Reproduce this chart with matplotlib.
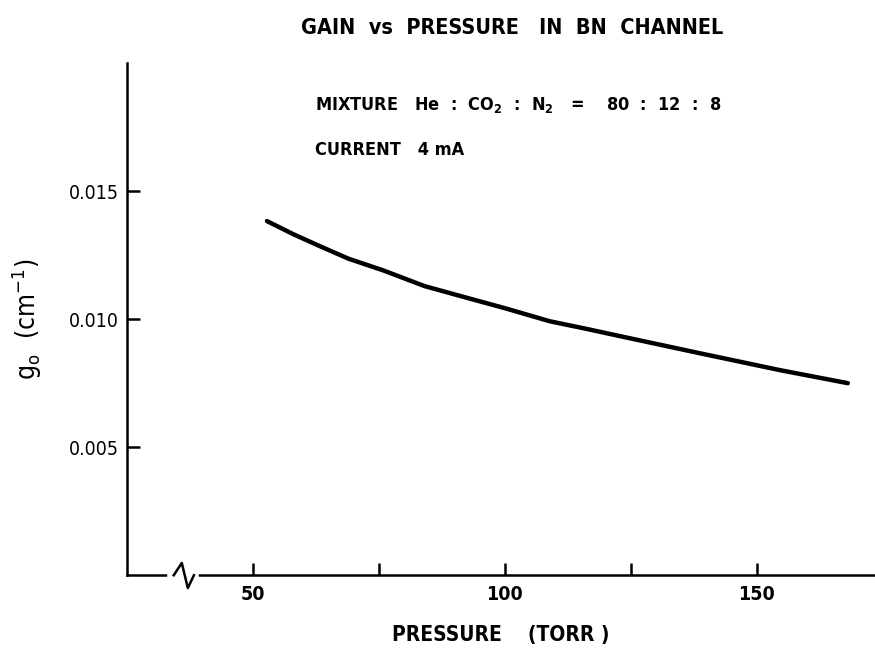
import matplotlib
matplotlib.use("Agg")
import matplotlib.pyplot as plt
from matplotlib.ticker import FixedLocator

plt.rcParams['font.family'] = ['DejaVu Sans']
plt.rcParams['font.stretch'] = 'condensed'

# values
pressure = [52.8, 58.0, 63.3, 69.0, 75.8, 84.1, 92.0, 100.0, 108.9, 116.0, 122.8,
            138.7, 154.6, 168.1]
gain = [0.01383, 0.01332, 0.01285, 0.01236, 0.01191, 0.01129, 0.01086, 0.01043,
        0.00992, 0.00963, 0.00934, 0.00867, 0.00801, 0.00750]

x_major = [50, 100, 150]
x_minor = [75, 125]
y_ticks = [0.005, 0.010, 0.015]
y_ticklabels = ['0.005', '0.010', '0.015']

fig = plt.figure(figsize=(8.75, 6.5), dpi=100)
ax = fig.add_axes([0.145, 0.115, 0.855, 0.788])

ax.plot(pressure, gain, color='black', lw=3.2, solid_capstyle='round',
        solid_joinstyle='round')

ax.set_xlim(25, 173.5)
ax.set_ylim(0, 0.02)

for s in ['top', 'right']:
    ax.spines[s].set_visible(False)
for s in ['left', 'bottom']:
    ax.spines[s].set_linewidth(1.8)

ax.xaxis.set_major_locator(FixedLocator(x_major))
ax.xaxis.set_minor_locator(FixedLocator(x_minor))
ax.set_xticklabels([str(v) for v in x_major], fontsize=14, fontweight='bold')
ax.tick_params(axis='x', which='both', direction='in', length=9, width=1.8, pad=7)

ax.set_yticks(y_ticks)
ax.set_yticklabels(y_ticklabels, fontsize=14)
ax.tick_params(axis='y', direction='in', length=9, width=1.8, pad=6)

# axis break mark
tr = ax.get_xaxis_transform()
ax.plot([33.5, 38.8], [0, 0], color='white', lw=4, transform=tr, clip_on=False, zorder=5)
ax.plot([34.3, 35.9, 37.1, 38.3], [0, 0.024, -0.025, 0], color='black', lw=1.8,
        transform=tr, clip_on=False, zorder=6)

ax.set_ylabel(r'g$_\mathregular{o}$  (cm$^{\mathregular{-1}}$)', fontsize=19, labelpad=18)
ax.set_xlabel('PRESSURE    (TORR )', fontsize=15, fontweight='bold', labelpad=15)

fig.text(0.585, 0.957, 'GAIN  vs  PRESSURE   IN  BN  CHANNEL', ha='center', va='center',
         fontsize=15.5, fontweight='bold')
fig.text(0.36, 0.838, r'MIXTURE   He  :  CO$_\mathregular{2}$  :  N$_\mathregular{2}$   =    80  :  12  :  8',
         ha='left', va='center', fontsize=13, fontweight='bold')
fig.text(0.36, 0.769, 'CURRENT   4 mA', ha='left', va='center', fontsize=13, fontweight='bold')

fig.savefig('out.png', dpi=100)
